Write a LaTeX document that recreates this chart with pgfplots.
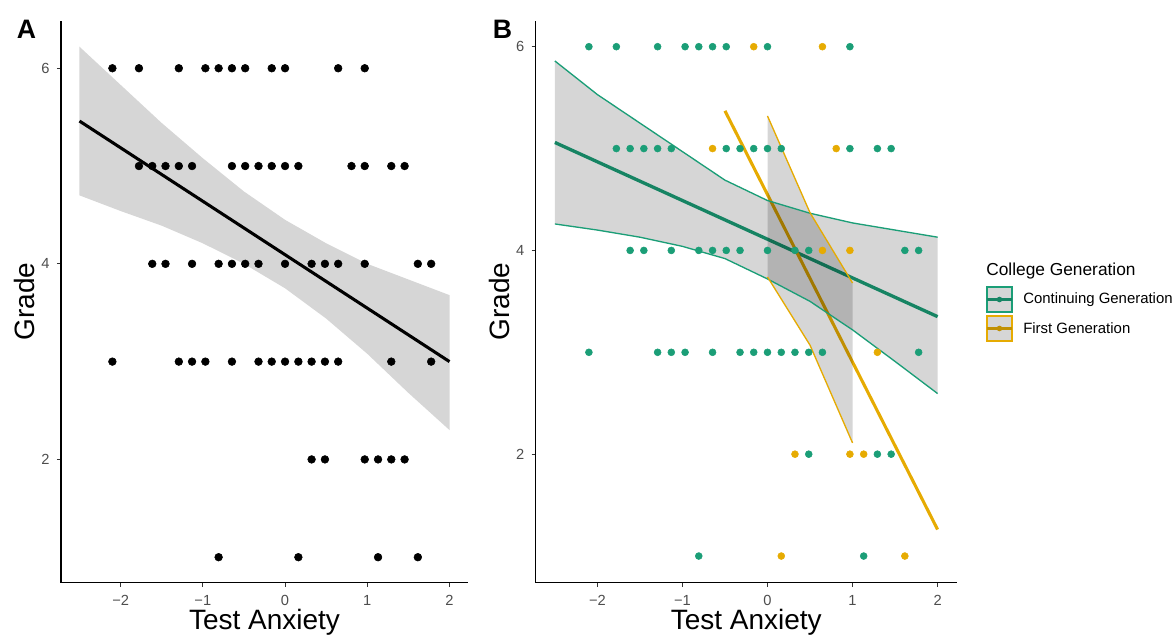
\documentclass[border=0pt]{standalone}
\usepackage{fontspec}
\setmainfont{Liberation Sans}
\usepackage{pgfplots}
\pgfplotsset{compat=1.18}
\usepackage{pgfplotstable}

\definecolor{contgreen}{HTML}{1B9E77}
\definecolor{firstgold}{HTML}{E6AB02}
\definecolor{ribbon}{HTML}{D6D6D6}
\definecolor{tickgray}{HTML}{4D4D4D}

% all students (panel A)
\pgfplotstableread{
x y
-2.100 6
-1.777 6
-1.292 6
-0.969 6
-0.808 6
-0.646 6
-0.485 6
-0.162 6
0.000 6
0.646 6
0.969 6
-1.777 5
-1.615 5
-1.454 5
-1.292 5
-1.131 5
-0.646 5
-0.485 5
-0.323 5
-0.162 5
0.000 5
0.162 5
0.808 5
0.969 5
1.292 5
1.454 5
-1.615 4
-1.454 4
-1.131 4
-0.808 4
-0.646 4
-0.485 4
-0.323 4
0.000 4
0.323 4
0.485 4
0.646 4
0.969 4
1.615 4
1.777 4
-2.100 3
-1.292 3
-1.131 3
-0.969 3
-0.646 3
-0.323 3
-0.162 3
0.000 3
0.162 3
0.323 3
0.485 3
0.646 3
1.292 3
1.777 3
0.323 2
0.485 2
0.969 2
1.131 2
1.292 2
1.454 2
-0.808 1
0.162 1
1.131 1
1.615 1
}\allpts

% continuing generation
\pgfplotstableread{
x y
-2.100 6
-1.777 6
-1.292 6
-0.969 6
-0.808 6
-0.646 6
-0.485 6
0.000 6
0.969 6
-1.777 5
-1.615 5
-1.454 5
-1.292 5
-1.131 5
-0.485 5
-0.323 5
-0.162 5
0.000 5
0.162 5
0.969 5
1.292 5
1.454 5
-1.615 4
-1.454 4
-1.131 4
-0.808 4
-0.646 4
-0.485 4
-0.323 4
0.000 4
0.323 4
0.485 4
1.615 4
1.777 4
-2.100 3
-1.292 3
-1.131 3
-0.969 3
-0.646 3
-0.323 3
-0.162 3
0.000 3
0.162 3
0.323 3
0.485 3
0.646 3
1.777 3
0.485 2
1.292 2
1.454 2
-0.808 1
1.131 1
}\contpts

% first generation
\pgfplotstableread{
x y
-0.162 6
0.646 6
-0.646 5
0.808 5
0.646 4
0.969 4
1.292 3
0.323 2
0.969 2
1.131 2
0.162 1
1.615 1
}\firstpts

\pgfplotsset{
  panel/.style={
    scale only axis, height=421.5pt,
    axis x line*=bottom, axis y line*=left,
    axis line style={line width=1pt, black},
    xmin=-2.725, xmax=2.225,
    xtick={-2,-1,0,1,2}, xticklabels={−2,−1,0,1,2},
    ytick={2,4,6}, yticklabels={2,4,6},
    tick align=outside, major tick length=3pt,
    tick style={line width=0.8pt, black!80},
    ticklabel style={font=\fontsize{11}{13}\selectfont, text=tickgray},
    xticklabel style={yshift=-3pt},
    yticklabel style={xshift=-2pt},
    xlabel={Test Anxiety}, ylabel={Grade},
    label style={font=\fontsize{21}{24}\selectfont},
    xlabel style={at={(axis description cs:0.5,-0.084)}, anchor=base},
  },
  band/.style={fill=ribbon, draw=none, blend mode=multiply},
}

\begin{document}
\begin{tikzpicture}

\begin{axis}[panel, width=305.25pt,
  at={(45.75pt,39.2pt)}, anchor=south west,
  ymin=0.739, ymax=6.486,
  ylabel style={at={(axis description cs:-0.0885,0.5)}, anchor=center}]
\addplot[only marks, mark=*, mark size=2.9pt, black] table {\allpts};
\addplot[black, line width=2.3pt] coordinates {(-2.5,5.46) (2,3.0)};
\addplot[band] coordinates {
  (-2.5,6.22) (-2,5.83) (-1.5,5.44) (-1,5.08) (-0.5,4.74) (0,4.45)
  (0.5,4.21) (1,4.00) (1.5,3.84) (2,3.68)
  (2,2.30) (1.5,2.68) (1,3.08) (0.5,3.44) (0,3.75) (-0.5,4.00)
  (-1,4.21) (-1.5,4.39) (-2,4.54) (-2.5,4.70)} -- cycle;
\end{axis}

\begin{axis}[panel, width=315.75pt,
  at={(401.8pt,39.2pt)}, anchor=south west,
  ymin=0.738, ymax=6.255,
  ylabel style={at={(axis description cs:-0.085,0.5)}, anchor=center}]
\addplot[only marks, mark=*, mark size=2.6pt, contgreen] table {\contpts};
\addplot[only marks, mark=*, mark size=2.6pt, firstgold] table {\firstpts};
\addplot[contgreen, line width=2.5pt] coordinates {(-2.5,5.06) (2,3.35)};
\addplot[firstgold, line width=2.3pt] coordinates {(-0.5,5.37) (2,1.26)};
\addplot[band] coordinates {
  (-2.5,5.86) (-2,5.53) (-1.5,5.25) (-1,4.97) (-0.5,4.69) (0,4.49)
  (0.5,4.365) (1,4.27) (1.5,4.20) (2,4.13)
  (2,2.595) (1.5,2.91) (1,3.22) (0.5,3.50) (0,3.72) (-0.5,3.92)
  (-1,4.04) (-1.5,4.13) (-2,4.20) (-2.5,4.26)} -- cycle;
\addplot[band] coordinates {
  (0,5.32) (0.5,4.37) (1,3.68) (1,2.11) (0.5,3.07) (0,3.74)} -- cycle;
\addplot[contgreen, line width=1pt] coordinates {
  (-2.5,5.86) (-2,5.53) (-1.5,5.25) (-1,4.97) (-0.5,4.69) (0,4.49)
  (0.5,4.365) (1,4.27) (1.5,4.20) (2,4.13)};
\addplot[contgreen, line width=1pt] coordinates {
  (-2.5,4.26) (-2,4.20) (-1.5,4.13) (-1,4.04) (-0.5,3.92) (0,3.72)
  (0.5,3.50) (1,3.22) (1.5,2.91) (2,2.595)};
\addplot[firstgold, line width=1pt] coordinates {(0,5.32) (0.5,4.37) (1,3.68)};
\addplot[firstgold, line width=1pt] coordinates {(0,3.74) (0.5,3.07) (1,2.11)};
\end{axis}

% panel tags
\node[anchor=base west, inner sep=0pt, font=\fontsize{20}{24}\selectfont\bfseries] at (12.5pt,447.2pt) {A};
\node[anchor=base west, inner sep=0pt, font=\fontsize{20}{24}\selectfont\bfseries] at (369.5pt,447.2pt) {B};

% legend
\node[anchor=base west, inner sep=0pt, font=\fontsize{13}{15}\selectfont] at (739.5pt,269.25pt) {College Generation};
\fill[ribbon] (739.5pt,241.5pt) rectangle (759.75pt,261.75pt);
\draw[contgreen, line width=1.4pt] (740.2pt,242.2pt) rectangle (759.05pt,261.05pt);
\draw[contgreen!84!black, line width=2.2pt] (740.2pt,251.6pt) -- (759.05pt,251.6pt);
\fill[contgreen!84!black] (749.6pt,251.6pt) circle (2.1pt);
\fill[ribbon] (739.5pt,219.75pt) rectangle (759.75pt,240pt);
\draw[firstgold, line width=1.4pt] (740.2pt,220.45pt) rectangle (759.05pt,239.3pt);
\draw[firstgold!84!black, line width=2.2pt] (740.2pt,229.9pt) -- (759.05pt,229.9pt);
\fill[firstgold!84!black] (749.6pt,229.9pt) circle (2.1pt);
\node[anchor=west, inner sep=0pt, font=\fontsize{11.2}{13}\selectfont] at (767.25pt,251.6pt) {Continuing Generation};
\node[anchor=west, inner sep=0pt, font=\fontsize{11.2}{13}\selectfont] at (767.25pt,229.9pt) {First Generation};

\pgfresetboundingbox
\path[use as bounding box] (0,0) rectangle (881.25pt,476.25pt);
\end{tikzpicture}
\end{document}
